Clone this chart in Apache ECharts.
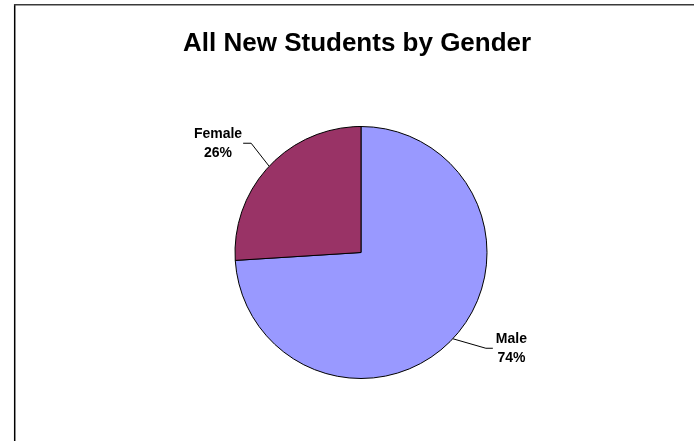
<!DOCTYPE html>
<html>
<head>
<meta charset="utf-8">
<script src="https://cdn.jsdelivr.net/npm/echarts@6/dist/echarts.min.js"></script>
<style>
html,body{margin:0;padding:0;background:#fff;}
#chart{width:694px;height:441px;}
</style>
</head>
<body>
<div id="chart"></div>
<script>
const titleText = 'All New Students by Gender';
const categories = ['Male', 'Female'];
const values = [74, 26];
const colors = ['#9999FF', '#993366'];

const chart = echarts.init(document.getElementById('chart'), null, {renderer: 'canvas'});

const option = {
  animation: false,
  backgroundColor: '#ffffff',
  title: {
    text: titleText,
    left: 183,
    top: 31,
    padding: 0,
    textStyle: {
      fontFamily: 'Liberation Sans, Arial, sans-serif',
      fontSize: 26,
      fontWeight: 'bold',
      color: '#000'
    }
  },
  graphic: [
    {type: 'line', shape: {x1: 14.7, y1: 4, x2: 14.7, y2: 441}, style: {stroke: '#000', lineWidth: 1.5}, silent: true},
    {type: 'line', shape: {x1: 14, y1: 4.7, x2: 694, y2: 4.7}, style: {stroke: '#3a3a3a', lineWidth: 1.5}, silent: true}
  ],
  series: [{
    type: 'pie',
    center: [361, 252.5],
    radius: 126,
    startAngle: 90,
    clockwise: true,
    avoidLabelOverlap: false,
    data: categories.map((c, i) => ({name: c, value: values[i], itemStyle: {color: colors[i]}})),
    itemStyle: {borderColor: '#000', borderWidth: 1},
    emphasis: {disabled: true},
    label: {
      show: true,
      position: 'outside',
      formatter: '{b}\n{d}%',
      fontFamily: 'Liberation Sans, Arial, sans-serif',
      fontSize: 14,
      fontWeight: 'bold',
      color: '#000',
      lineHeight: 19,
      align: 'center'
    },
    labelLine: {
      show: true,
      length: 20,
      length2: 8,
      lineStyle: {color: '#000', width: 1}
    },
    labelLayout: function (params) {
      const pts = params.labelLinePoints;
      if (!pts) return {};
      const p0 = pts[0];
      const w = params.labelRect.width;
      if (params.dataIndex === 1) {
        const elbow = [p0[0] - 18, p0[1] - 23];
        const end = [elbow[0] - 8, elbow[1]];
        return {
          x: end[0] - 1 - w / 2,
          y: end[1],
          align: 'center',
          verticalAlign: 'middle',
          labelLinePoints: [p0, elbow, end]
        };
      } else {
        const elbow = [p0[0] + 33, p0[1] + 9.5];
        const end = [elbow[0] + 7, elbow[1]];
        return {
          x: end[0] + 3 + w / 2,
          y: end[1],
          align: 'center',
          verticalAlign: 'middle',
          labelLinePoints: [p0, elbow, end]
        };
      }
    }
  }]
};
chart.setOption(option);
</script>
</body>
</html>
